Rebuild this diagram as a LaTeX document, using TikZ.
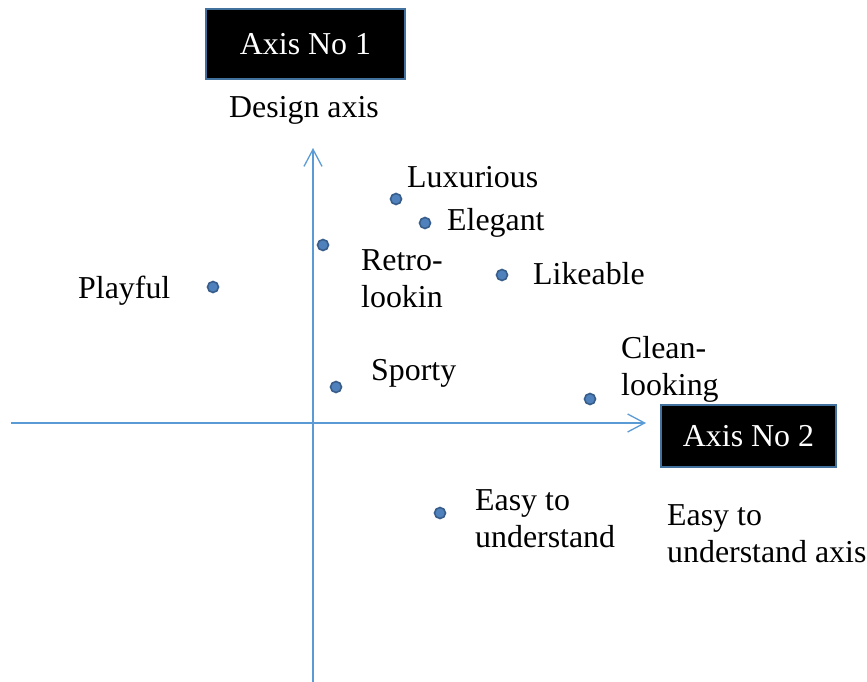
\documentclass[tikz,border=0pt]{standalone}
\usepackage{fontspec}
\setmainfont{Liberation Serif}
\usetikzlibrary{arrows.meta}
\definecolor{axisblue}{RGB}{91,155,213}
\definecolor{dotfill}{RGB}{79,129,189}
\definecolor{dotdraw}{RGB}{56,93,138}
\definecolor{boxedge}{RGB}{65,113,156}
\begin{document}
\begin{tikzpicture}[x=1bp,y=-1bp,
  lbl/.style={anchor=base west, inner sep=0pt, align=left, font=\fontsize{32}{37}\selectfont},
  dotmark/.style={circle, fill=dotfill, draw=dotdraw, line width=1.6bp, minimum size=11bp, inner sep=0pt},
  axisbox/.style={fill=black, draw=boxedge, line width=2.5bp, text=white, inner sep=0pt, font=\fontsize{32}{37}\selectfont},
  axisline/.style={draw=axisblue, line width=1.3bp, -{Straight Barb[length=17bp,width=18bp]}}]
\useasboundingbox (0,0) rectangle (867,682);
% axes
\coordinate (vbot) at (313,682);
\coordinate (vtop) at (313,148);
\coordinate (hleft) at (11,423);
\coordinate (hright) at (646,423);
\draw[axisline] (vbot) -- (vtop);
\draw[axisline] (hleft) -- (hright);
% axis boxes
\node[axisbox, minimum width=199bp, minimum height=70bp] (ax1) at (305.5,44) {Axis No 1};
\node[axisbox, minimum width=175bp, minimum height=62bp] (ax2) at (748.5,436) {Axis No 2};
\node[lbl] (des) at (229,118) {Design axis};
\node[lbl] (eua) at (667,562) {Easy to\\understand axis};
% points
\node[dotmark] (plux) at (396,199) {};
\node[lbl] (tlux) at (407,187) {Luxurious};
\node[dotmark] (pele) at (425,223) {};
\node[lbl] (tele) at (447,230) {Elegant};
\node[dotmark] (pret) at (323,245) {};
\node[lbl] (tret) at (361,307) {Retro-\\lookin};
\node[dotmark] (plik) at (502,275) {};
\node[lbl] (tlik) at (533,284) {Likeable};
\node[dotmark] (ppla) at (213,287) {};
\node[lbl] (tpla) at (78,298) {Playful};
\node[dotmark] (pspo) at (336,387) {};
\node[lbl] (tspo) at (371,380) {Sporty};
\node[dotmark] (pcle) at (590,399) {};
\node[lbl] (tcle) at (621,395) {Clean-\\looking};
\node[dotmark] (peas) at (440,513) {};
\node[lbl] (teas) at (475,547) {Easy to\\understand};
\end{tikzpicture}
\end{document}
